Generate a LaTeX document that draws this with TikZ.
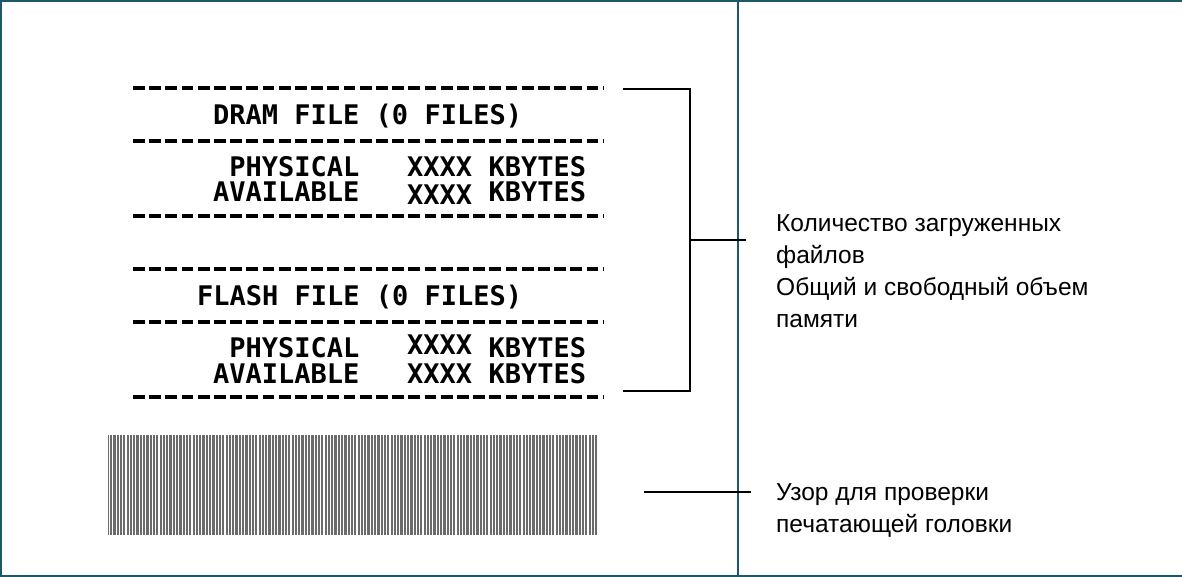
\documentclass[tikz,border=0pt]{standalone}
\usepackage{fontspec}
\setmainfont{Liberation Sans}
\newfontfamily\prt{DejaVu Sans Mono}
\definecolor{framec}{RGB}{30,87,104}
\begin{document}
\begin{tikzpicture}[x=1pt,y=-1pt,
  prn/.style={font=\prt\bfseries\fontsize{27}{27}\selectfont, inner sep=0pt, anchor=base west},
  lbl/.style={font=\fontsize{24.5}{32}\selectfont, align=left, inner sep=0pt, anchor=base west},
  dashline/.style={line width=3.2pt, dash pattern=on 11.8pt off 4.4pt},
  lead/.style={line width=1.8pt},
  framel/.style={draw=framec, line width=2pt},
  stripe/.style={draw=white, line width=1.1pt}]
\useasboundingbox (0,0) rectangle (1182,577);
% frame
\draw[framel] (1182,1) -- (1,1) -- (1,576) -- (1182,576);
\draw[framel] (738,0) -- (738,577);
% dashed rules
\foreach \yy/\nm in {88/d1,141/d2,216/d3,269/d4,322/d5,397/d6}{
  \coordinate (\nm a) at (133,\yy);
  \coordinate (\nm b) at (603,\yy);
  \draw[dashline] (\nm a) -- (\nm b);
}
% DRAM block
\node[prn] (dram) at (213,125) {DRAM FILE (0 FILES)};
\node[prn] (p1) at (229.2,177) {PHYSICAL};
\node[prn] (p1x) at (407,177) {XXXX};
\node[prn] (p1k) at (488.5,177) {KBYTES};
\node[prn] (a1) at (213,202) {AVAILABLE};
\node[prn] (a1x) at (407,205) {XXXX};
\node[prn] (a1k) at (488.5,202) {KBYTES};
% FLASH block
\node[prn] (flash) at (196.8,305) {FLASH FILE (0 FILES)};
\node[prn] (p2) at (229.2,357) {PHYSICAL};
\node[prn] (p2x) at (407,354) {XXXX};
\node[prn] (p2k) at (488.5,357) {KBYTES};
\node[prn] (a2) at (213,383) {AVAILABLE};
\node[prn] (a2x) at (407,383) {XXXX};
\node[prn] (a2k) at (488.5,383) {KBYTES};
% test pattern
\node[inner sep=0pt, minimum width=489pt, minimum height=100pt, anchor=north west, fill=black!58] (pat) at (108,435) {};
\foreach \i in {0,...,147}{
  \draw[stripe] ({109.5+\i*3.3},435) -- ({109.5+\i*3.3},535);
}
% bracket
\coordinate (b1) at (623,89);
\coordinate (b2) at (690,89);
\coordinate (b3) at (690,391);
\coordinate (b4) at (623,391);
\coordinate (bm) at (690,240);
\coordinate (be) at (746,240);
\draw[lead] (b1) -- (b2) -- (b3) -- (b4);
\draw[lead] (bm) -- (be);
% labels
\node[lbl] (lab1) at (776,327) {Количество загруженных\\файлов\\Общий и свободный объем\\памяти};
\node[lbl] (lab2) at (776,532) {Узор для проверки\\печатающей головки};
\coordinate (pe) at (751,492);
\draw[lead] (pat.east |- pe) ++(47,0) coordinate (ps) -- (pe);
\end{tikzpicture}
\end{document}
